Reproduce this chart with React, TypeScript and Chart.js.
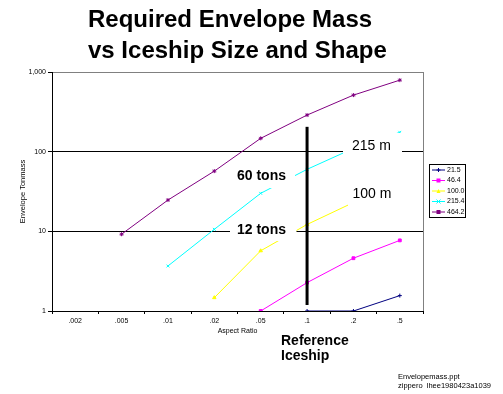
import React, { useEffect, useRef } from 'react';
import { Chart, registerables } from 'chart.js';
Chart.register(...registerables);

const categories = ['.002', '.005', '.01', '.02', '.05', '.1', '.2', '.5'];
const seriesNames = ['21.5', '46.4', '100.0', '215.4', '464.2'];
const s21_5 = [null, null, null, null, null, 1.0, 1.0, 1.56];
const s46_4 = [null, null, null, null, 1.0, 2.27, 4.6, 7.7];
const s100 = [null, null, null, 1.47, 5.7, 12.2, 23, null];
const s215_4 = [null, null, 3.67, 10.6, 30, 60, 110, 175];
const s464_2 = [null, 9.2, 24.7, 57, 147, 288, 513, 790];
const yTicks = [1, 10, 100, 1000];
const yTickLabels = ['1', '10', '100', '1,000'];
const seriesColors = ['#000080', '#FF00FF', '#FFFF00', '#00FFFF', '#800080'];
const seriesMarkers = ['cross', 'rect', 'triangle', 'crossRot', 'star'];
const refCategoryIndex = 5;
const refRange = [1.19, 205];

const FONT = '"Liberation Sans", Arial, sans-serif';

function drawMarker(ctx: CanvasRenderingContext2D, style: string, x: number, y: number, r: number, color: string) {
  ctx.save();
  ctx.strokeStyle = color;
  ctx.fillStyle = color;
  ctx.lineWidth = 1;
  ctx.beginPath();
  if (style === 'rect') {
    ctx.fillRect(x - r, y - r, 2 * r, 2 * r);
  } else if (style === 'triangle') {
    ctx.moveTo(x, y - r);
    ctx.lineTo(x + r, y + r);
    ctx.lineTo(x - r, y + r);
    ctx.closePath();
    ctx.fill();
  } else if (style === 'cross') {
    ctx.moveTo(x - r, y); ctx.lineTo(x + r, y);
    ctx.moveTo(x, y - r); ctx.lineTo(x, y + r);
    ctx.stroke();
  } else if (style === 'crossRot') {
    ctx.moveTo(x - r, y - r); ctx.lineTo(x + r, y + r);
    ctx.moveTo(x - r, y + r); ctx.lineTo(x + r, y - r);
    ctx.stroke();
  } else {
    ctx.fillRect(x - r, y - r, 2 * r, 2 * r);
  }
  ctx.restore();
}

const overlayPlugin = {
  id: 'overlay',
  afterDatasetsDraw(chart: any) {
    const ctx: CanvasRenderingContext2D = chart.ctx;
    const xs = chart.scales.x;
    const ys = chart.scales.y;
    const area = chart.chartArea;
    ctx.save();
    // right plot border
    ctx.strokeStyle = '#808080';
    ctx.lineWidth = 1;
    ctx.beginPath();
    ctx.moveTo(Math.round(area.right) + 0.5, area.top);
    ctx.lineTo(Math.round(area.right) + 0.5, area.bottom);
    ctx.stroke();

    // white label boxes
    ctx.fillStyle = '#FFFFFF';
    ctx.fillRect(343, 133, 59, 27);
    ctx.fillRect(348, 180, 56, 32);
    ctx.fillRect(230, 162, 65, 26);
    ctx.fillRect(230, 219, 66.5, 22);

    // label texts
    ctx.fillStyle = '#000';
    ctx.textBaseline = 'alphabetic';
    ctx.textAlign = 'left';
    ctx.font = `14px ${FONT}`;
    ctx.fillText('215 m', 352, 150);
    ctx.fillText('100 m', 352.5, 198);
    ctx.font = `bold 14px ${FONT}`;
    ctx.fillText('60 tons', 237, 180);
    ctx.fillText('12 tons', 237, 234);

    // reference line
    const rx = xs.getPixelForValue(refCategoryIndex);
    ctx.strokeStyle = '#000';
    ctx.lineWidth = 3;
    ctx.beginPath();
    ctx.moveTo(rx, ys.getPixelForValue(refRange[0]));
    ctx.lineTo(rx, ys.getPixelForValue(refRange[1]));
    ctx.stroke();
    ctx.restore();
  },
  afterDraw(chart: any) {
    const ctx: CanvasRenderingContext2D = chart.ctx;
    ctx.save();
    ctx.fillStyle = '#000';
    ctx.textAlign = 'left';
    ctx.textBaseline = 'alphabetic';
    ctx.font = `bold 24px ${FONT}`;
    ctx.fillText('Required Envelope Mass', 88, 27);
    ctx.fillText('vs Iceship Size and Shape', 88, 58);

    ctx.font = `bold 14px ${FONT}`;
    ctx.fillText('Reference', 281, 345);
    ctx.fillText('Iceship', 281, 360);

    ctx.font = `7px ${FONT}`;
    ctx.textAlign = 'center';
    ctx.fillText('Aspect Ratio', (chart.chartArea.left + chart.chartArea.right) / 2, 333);

    ctx.save();
    ctx.translate(25, (chart.chartArea.top + chart.chartArea.bottom) / 2);
    ctx.rotate(-Math.PI / 2);
    ctx.font = `7.5px ${FONT}`;
    ctx.fillText('Envelope Tonmass', 0, 0);
    ctx.restore();

    ctx.textAlign = 'left';
    ctx.font = `7.5px ${FONT}`;
    ctx.fillText('Envelopemass.ppt', 398, 379);
    ctx.fillText('zippero  lhee1980423a1039', 398, 388);

    // legend
    ctx.strokeStyle = '#000';
    ctx.lineWidth = 1;
    ctx.strokeRect(429.5, 164.5, 36, 53);
    ctx.font = `7px ${FONT}`;
    ctx.textBaseline = 'middle';
    seriesNames.forEach((name, i) => {
      const yy = 170 + i * 10.5;
      ctx.strokeStyle = seriesColors[i];
      ctx.beginPath();
      ctx.moveTo(432, yy);
      ctx.lineTo(445, yy);
      ctx.stroke();
      drawMarker(ctx, seriesMarkers[i], 438.5, yy, 2, seriesColors[i]);
      ctx.fillStyle = '#000';
      ctx.fillText(name, 447, yy);
    });
    ctx.restore();
  },
};

const seriesData = [s21_5, s46_4, s100, s215_4, s464_2];

export default function App() {
  const ref = useRef<HTMLCanvasElement | null>(null);
  useEffect(() => {
    if (!ref.current) return;
    const chart = new Chart(ref.current, {
      type: 'line',
      data: {
        labels: categories,
        datasets: seriesData.map((d, i) => ({
          label: seriesNames[i],
          data: d,
          borderColor: seriesColors[i],
          backgroundColor: seriesColors[i],
          borderWidth: 1,
          pointStyle: seriesMarkers[i] as any,
          pointRadius: 2,
          pointBorderWidth: 1,
          pointHoverRadius: 2,
          tension: 0,
          spanGaps: false,
        })),
      },
      options: {
        animation: false,
        responsive: false,
        devicePixelRatio: 1,
        events: [],
        layout: { padding: { top: 72, right: 80, left: 0, bottom: 0 } },
        plugins: {
          legend: { display: false },
          title: { display: false },
          tooltip: { enabled: false },
        },
        scales: {
          x: {
            type: 'category',
            offset: true,
            border: { color: '#000', width: 1 },
            grid: {
              offset: true,
              drawOnChartArea: false,
              drawTicks: true,
              tickLength: 3,
              color: '#000',
              tickColor: '#000',
            },
            ticks: {
              autoSkip: false,
              maxRotation: 0,
              minRotation: 0,
              padding: 3,
              color: '#000',
              font: { size: 7, family: FONT },
            },
            afterFit(scale: any) { scale.height = 83; },
          },
          y: {
            type: 'logarithmic',
            min: 1,
            max: 1000,
            border: { color: '#000', width: 1 },
            grid: {
              color: (c: any) => (c.tick && c.tick.value === 1000 ? '#808080' : '#000'),
              tickColor: '#000',
              tickLength: 4,
              drawTicks: true,
            },
            ticks: {
              padding: 2,
              color: '#000',
              font: { size: 7, family: FONT },
              callback: (v: any) => {
                const i = yTicks.indexOf(Number(v));
                return i >= 0 ? yTickLabels[i] : '';
              },
            },
            afterBuildTicks(scale: any) {
              scale.ticks = yTicks.map((v) => ({ value: v, major: false }));
            },
            afterFit(scale: any) { scale.width = 52; },
          },
        },
      },
      plugins: [overlayPlugin],
    });
    return () => chart.destroy();
  }, []);
  return (
    <div style={{ position: 'absolute', left: 0, top: 0, width: 503, height: 394, background: '#fff' }}>
      <canvas ref={ref} width={503} height={394} style={{ display: 'block', width: 503, height: 394 }} />
    </div>
  );
}
